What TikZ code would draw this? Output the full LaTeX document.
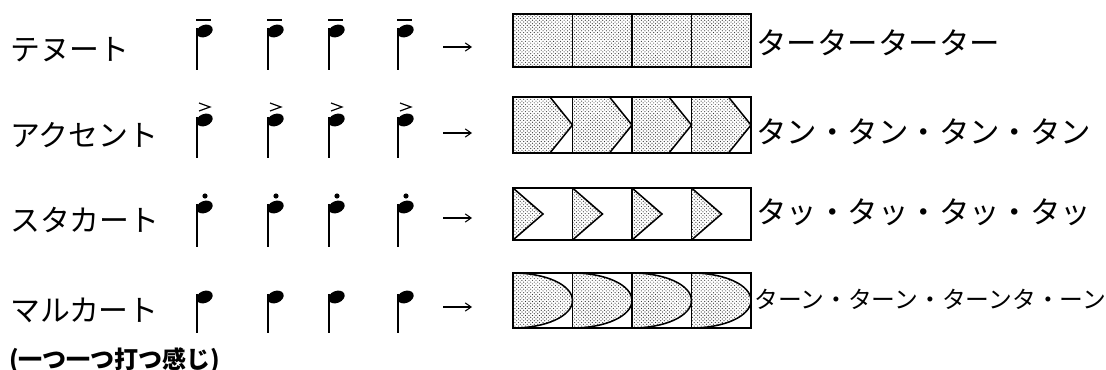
\documentclass[tikz,border=0pt]{standalone}
\usepackage{fontspec}
\usepackage{tikz}
\usetikzlibrary{arrows.meta, patterns}
\newfontfamily\jp{Noto Sans CJK JP}

\begin{document}
\begin{tikzpicture}[x=0.03cm, y=-0.03cm,
    lbl/.style={font=\jp\fontsize{25.5}{25.5}\selectfont, anchor=west, inner sep=0pt},
    say/.style={font=\jp\fontsize{26}{26}\selectfont, anchor=west, inner sep=0pt},
    cell/.style={line width=1.3pt},
    shade/.style={pattern=crosshatch dots, pattern color=black!80},
    arr/.style={-{Straight Barb[length=5pt,width=7pt]}, line width=0.9pt},
    notestem/.style={line width=1.4pt}
]
\useasboundingbox (0,0) rectangle (1106,370);

% row labels
\node[lbl] (lblTen) at (10,50) {テヌート};
\node[lbl] (lblAcc) at (10,135) {アクセント};
\node[lbl] (lblSta) at (10,220) {スタカート};
\node[lbl] (lblMar) at (10,310) {マルカート};
\node[lbl, font=\jp\bfseries\fontsize{20.5}{20.5}\selectfont] (hint) at (9,361) {(一つ一つ打つ感じ)};

% notes
\foreach \x in {197,268,329,398}{
  % tenuto
  \draw[notestem] (\x,28) -- (\x,70);
  \fill[rotate around={22:(\x+7.5,31)}] (\x+7.5,31) ellipse[x radius=8.5, y radius=6];
  \draw[line width=1.2pt] (\x-1,20) -- (\x+14,20);
  % accent
  \draw[notestem] (\x,117) -- (\x,158);
  \fill[rotate around={22:(\x+7.5,120)}] (\x+7.5,120) ellipse[x radius=8.5, y radius=6];
  \draw[line width=1pt] (\x+2,103) -- (\x+13,107) -- (\x+2,111);
  % staccato
  \draw[notestem] (\x,204) -- (\x,247);
  \fill[rotate around={22:(\x+7.5,207)}] (\x+7.5,207) ellipse[x radius=8.5, y radius=6];
  \fill (\x+8,196) circle[radius=2.6];
  % marcato
  \draw[notestem] (\x,294) -- (\x,333);
  \fill[rotate around={22:(\x+7.5,297)}] (\x+7.5,297) ellipse[x radius=8.5, y radius=6];
}

% arrows
\coordinate (aTen0) at (443,47);  \coordinate (aTen1) at (472,47);
\coordinate (aAcc0) at (443,133); \coordinate (aAcc1) at (472,133);
\coordinate (aSta0) at (443,218); \coordinate (aSta1) at (472,218);
\coordinate (aMar0) at (443,307); \coordinate (aMar1) at (472,307);
\draw[arr] (aTen0) -- (aTen1);
\draw[arr] (aAcc0) -- (aAcc1);
\draw[arr] (aSta0) -- (aSta1);
\draw[arr] (aMar0) -- (aMar1);

% boxes
\foreach \i in {0,...,3}{
  \pgfmathsetmacro\xa{513+59.5*\i}
  \pgfmathsetmacro\xb{\xa+59.5}
  % tenuto
  \fill[shade] (\xa,14) rectangle (\xb,67);
  \draw[cell] (\xa,14) rectangle (\xb,67);
  % accent
  \fill[shade] (\xa,97) -- (\xa+37,97) -- (\xb,125) -- (\xa+37,153) -- (\xa,153) -- cycle;
  \draw[cell] (\xa,97) rectangle (\xb,153);
  \draw[cell] (\xa+37,97) -- (\xb,125) -- (\xa+37,153);
  % staccato
  \fill[shade] (\xa,188) -- (\xa+30,214) -- (\xa,240) -- cycle;
  \draw[cell] (\xa,188) rectangle (\xb,240);
  \draw[cell] (\xa,188) -- (\xa+30,214) -- (\xa,240);
  % marcato
  \fill[shade] (\xa,273) .. controls (\xa+33,273) and (\xb,285) .. (\xb,300.5)
    .. controls (\xb,316) and (\xa+33,328) .. (\xa,328) -- cycle;
  \draw[cell] (\xa,273) rectangle (\xb,328);
  \draw[cell] (\xa,273) .. controls (\xa+33,273) and (\xb,285) .. (\xb,300.5)
    .. controls (\xb,316) and (\xa+33,328) .. (\xa,328);
}

% spoken rhythm
\node[say] (sayTen) at (756,43) {ターターターター};
\node[say] (sayAcc) at (756,132) {タン・タン・タン・タン};
\node[say] (saySta) at (756,212) {タッ・タッ・タッ・タッ};
\node[say, font=\jp\fontsize{20.3}{20.3}\selectfont] (sayMar) at (754,299) {ターン・ターン・ターンタ・ーン};
\end{tikzpicture}
\end{document}
